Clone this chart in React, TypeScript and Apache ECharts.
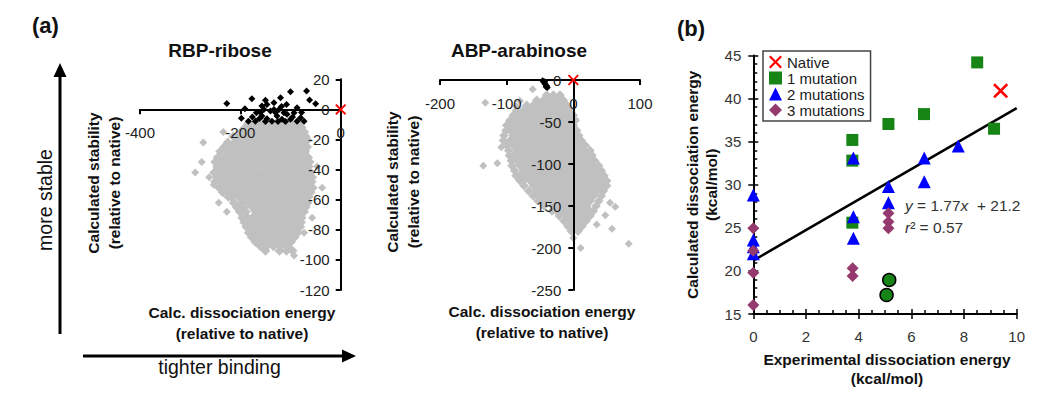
import React, { useEffect, useRef } from 'react';
import * as echarts from 'echarts';

const FONT = '"Liberation Sans", Arial, Helvetica, sans-serif';
const X_PATH = 'path://M0,1.2L1.2,0L5,3.8L8.8,0L10,1.2L6.2,5L10,8.8L8.8,10L5,6.2L1.2,10L0,8.8L3.8,5Z';

// ---------- Panel (a) RBP-ribose ----------
const rbpXTicks = { min: -400, max: 0, interval: 200 };
const rbpYTicks = { min: -120, max: 20, interval: 20 };
const rbpNative: [number, number][] = [[0, 0]];
const rbpBlack: [number, number][] = [
  [-227, 4], [-177, 7], [-191, 0.5], [-198, -5.8], [-184, -7.8], [-168, -2.2], [-157, 2.2], [-147, 3.3],
  [-133, 4.4], [-120, 7.8], [-100, 11.7], [-68, 12.2], [-62, 6.2], [-50, 3.8], [-87, 1.1], [-108, 3.3],
  [-123, 0], [-140, -1.1], [-157, -4.4], [-147, -6.2], [-127, -4.4], [-107, -3.3], [-93, -2.2], [-80, -5.5],
  [-73, -7.8], [-117, -6.6], [-100, -6.6], [-170, -7.8], [-137, -7.8], [-87, -7.8], [-113, -2.2], [-133, 0],
  [-153, 0], [-150, 6], [-176, -5], [-162, -6], [-130, -2], [-118, 2], [-96, -5], [-110, -8], [-125, -8],
  [-150, -8], [-160, -2], [-78, -2],
];
const rbpGreyRows: [number, number[]][] = [
  [-9, [-183, -169, -155, -141, -127, -113, -99, -85]],
  [-12, [-190, -176, -162, -148, -134, -120, -106, -92, -78]],
  [-15, [-199, -183, -169, -155, -141, -127, -113, -99, -85, -73]],
  [-18, [-214, -204, -190, -176, -162, -148, -134, -120, -106, -92, -78, -70]],
  [-22, [-225, -211, -197, -183, -169, -155, -141, -127, -113, -99, -85, -71]],
  [-25, [-232, -218, -204, -190, -176, -162, -148, -134, -120, -106, -92, -78, -67]],
  [-28, [-240, -225, -211, -197, -183, -169, -155, -141, -127, -113, -99, -85, -71]],
  [-32, [-245, -232, -218, -204, -190, -176, -162, -148, -134, -120, -106, -92, -78, -65]],
  [-35, [-250, -239, -225, -211, -197, -183, -169, -155, -141, -127, -113, -99, -85, -71, -62]],
  [-38, [-246, -232, -218, -204, -190, -176, -162, -148, -134, -120, -106, -92, -78, -64]],
  [-42, [-252, -239, -225, -211, -197, -183, -169, -155, -141, -127, -113, -99, -85, -71, -60]],
  [-45, [-246, -232, -218, -204, -190, -176, -162, -148, -134, -120, -106, -92, -78, -64, -57]],
  [-48, [-250, -239, -225, -211, -197, -183, -169, -155, -141, -127, -113, -99, -85, -71, -58]],
  [-52, [-242, -232, -218, -204, -190, -176, -162, -148, -134, -120, -106, -92, -78, -64, -56]],
  [-55, [-235, -225, -211, -197, -183, -169, -155, -141, -127, -113, -99, -85, -71, -60]],
  [-58, [-224, -218, -204, -190, -176, -162, -148, -134, -120, -106, -92, -78, -64]],
  [-62, [-213, -197, -183, -169, -155, -141, -127, -113, -99, -85, -71, -66]],
  [-65, [-207, -194, -176, -162, -148, -134, -120, -106, -92, -78, -70]],
  [-68, [-201, -189, -169, -155, -141, -127, -113, -99, -85, -73]],
  [-72, [-196, -186, -176, -162, -148, -134, -120, -106, -92, -78]],
  [-75, [-192, -183, -169, -155, -141, -127, -113, -99, -85, -79]],
  [-78, [-188, -176, -162, -148, -134, -120, -106, -92, -81]],
  [-82, [-183, -169, -155, -141, -127, -113, -99, -86]],
  [-85, [-177, -162, -148, -134, -120, -106, -92]],
  [-88, [-170, -155, -141, -127, -113, -99]],
  [-91, [-160, -148, -134, -120, -106]],
  [-94, [-150, -122, -108, -96]],
];
const rbpGreyOutliers: [number, number][] = [
  [-234, -15], [-274, -22], [-277, -35], [-290, -42], [-262, -45], [-253, -50], [-243, -62], [-227, -68],
  [-37, -52], [-47, -38], [-57, -72], [-73, -82], [-93, -97], [-153, -92], [-65, -20],
];

// ---------- Panel (a) ABP-arabinose ----------
const abpXTicks = { min: -200, max: 100, interval: 100 };
const abpYTicks = { min: -250, max: 0, interval: 50 };
const abpNative: [number, number][] = [[0, 0]];
const abpBlack: [number, number][] = [[-46, -1], [-44, -3], [-42, -5], [-40, -7], [-39, -9], [-43, -2], [-41, -8]];
const abpGreyRows: [number, number[]][] = [
  [-18, [-40, -30, -20]],
  [-24, [-55, -45, -35, -25, -15]],
  [-30, [-70, -60, -50, -40, -30, -20, -10]],
  [-36, [-85, -75, -65, -55, -45, -35, -25, -15, -5]],
  [-42, [-90, -80, -70, -60, -50, -40, -30, -20, -10, 0]],
  [-48, [-95, -85, -75, -65, -55, -45, -35, -25, -15, -5, 3]],
  [-54, [-100, -90, -80, -70, -60, -50, -40, -30, -20, -10, 0]],
  [-60, [-101, -95, -85, -75, -65, -55, -45, -35, -25, -15, -5, 5]],
  [-66, [-104, -90, -80, -70, -60, -50, -40, -30, -20, -10, 0, 8]],
  [-72, [-105, -95, -85, -75, -65, -55, -45, -35, -25, -15, -5, 5, 12]],
  [-78, [-100, -90, -80, -70, -60, -50, -40, -30, -20, -10, 0, 10, 18]],
  [-84, [-97, -85, -75, -65, -55, -45, -35, -25, -15, -5, 5, 15, 25]],
  [-90, [-96, -90, -80, -70, -60, -50, -40, -30, -20, -10, 0, 10, 20, 28]],
  [-96, [-93, -85, -75, -65, -55, -45, -35, -25, -15, -5, 5, 15, 25, 32]],
  [-102, [-92, -80, -70, -60, -50, -40, -30, -20, -10, 0, 10, 20, 30, 38]],
  [-108, [-88, -75, -65, -55, -45, -35, -25, -15, -5, 5, 15, 25, 35, 42]],
  [-114, [-86, -80, -70, -60, -50, -40, -30, -20, -10, 0, 10, 20, 30, 40, 46]],
  [-120, [-80, -75, -65, -55, -45, -35, -25, -15, -5, 5, 15, 25, 35, 45, 50]],
  [-126, [-74, -60, -50, -40, -30, -20, -10, 0, 10, 20, 30, 40, 50]],
  [-132, [-67, -55, -45, -35, -25, -15, -5, 5, 15, 25, 35, 45]],
  [-138, [-60, -50, -40, -30, -20, -10, 0, 10, 20, 30, 42]],
  [-144, [-53, -45, -35, -25, -15, -5, 5, 15, 25, 38]],
  [-150, [-44, -30, -20, -10, 0, 10, 20, 34]],
  [-156, [-32, -25, -15, -5, 5, 15, 25, 30]],
  [-162, [-21, -10, 0, 10, 20, 25]],
  [-168, [-14, -5, 5, 15, 19]],
  [-174, [-8, 0, 10, 13]],
  [-180, [-3, 7]],
];
const abpGreyOutliers: [number, number][] = [
  [-132, -27], [-61, -11], [-80, -25], [-86, -31], [-135, -102], [-114, -99], [-108, -80], [83, -195],
  [11, -200], [58, -177], [48, -161], [63, -151], [55, -146], [0, -188], [35, -172],
];

// ---------- Panel (b) ----------
const bXTicks = { min: 0, max: 10, interval: 2 };
const bYTicks = { min: 15, max: 45, interval: 5 };
const nativeB: [number, number][] = [[9.39, 40.9]];
const oneMutation: [number, number][] = [
  [8.5, 44.2], [9.14, 36.5], [6.48, 38.2], [5.13, 37.05], [3.76, 35.2], [3.76, 32.8], [3.76, 25.6],
];
const oneMutationCircled: [number, number][] = [[5.16, 18.95], [5.06, 17.2]];
const twoMutations: [number, number][] = [
  [0, 28.8], [0, 23.6], [0, 22.8], [0, 22.0], [3.8, 33.1], [3.8, 26.3], [3.8, 23.8], [5.13, 29.8],
  [5.13, 27.9], [6.49, 33.1], [6.49, 30.35], [7.78, 34.5],
];
const threeMutations: [number, number][] = [
  [0, 24.95], [0, 22.35], [0, 19.8], [0, 16.05], [3.77, 20.3], [3.77, 19.4], [5.13, 26.7], [5.13, 25.7],
  [5.13, 24.95],
];
const trendX = [0, 10];
const trendY = [21.2, 38.9];
const legendNames = ['Native', '1 mutation', '2 mutations', '3 mutations'];

function expandRows(rows: [number, number[]][]): [number, number][] {
  const out: [number, number][] = [];
  rows.forEach(([y, xs]) => xs.forEach((x) => out.push([x, y])));
  return out;
}

// axes of panel (a) cross at the origin; they are moved there with offset
function aAxis(gridIndex: number, ticks: { min: number; max: number; interval: number }, pos: string, offset: number, margin: number) {
  return {
    type: 'value',
    gridIndex,
    position: pos,
    offset,
    min: ticks.min,
    max: ticks.max,
    interval: ticks.interval,
    z: 2,
    axisLine: { show: true, onZero: false, lineStyle: { color: '#000', width: 2 } },
    axisTick: { show: true, inside: false, length: 5, lineStyle: { color: '#000', width: 2 } },
    axisLabel: {
      show: true, margin, color: '#222', fontSize: 15, fontFamily: FONT,
      showMinLabel: true, showMaxLabel: true,
    },
    splitLine: { show: false },
    minorTick: { show: false },
  };
}

function bAxis(ticks: { min: number; max: number; interval: number }, pos: string, split: number, margin: number, overlay: boolean) {
  return {
    type: 'value',
    gridIndex: 2,
    position: pos,
    min: ticks.min,
    max: ticks.max,
    interval: ticks.interval,
    z: 2,
    axisLine: { show: !overlay, onZero: false, lineStyle: { color: '#000', width: 2 } },
    axisTick: { show: true, inside: !overlay, length: 5, lineStyle: { color: '#000', width: 1.5 } },
    minorTick: { show: !overlay, splitNumber: split, length: 4, lineStyle: { color: '#000', width: 1.5 } },
    axisLabel: {
      show: !overlay, margin, color: '#333', fontSize: 15, fontFamily: FONT,
      showMinLabel: true, showMaxLabel: true,
    },
    splitLine: { show: false },
  };
}

function label(text: string, x: number, y: number, opts: any = {}) {
  return {
    type: 'text', x, y, rotation: opts.rotation || 0, z: 10,
    style: {
      text, align: opts.align || 'center', verticalAlign: 'middle',
      fontSize: opts.fontSize || 15.5, fontWeight: opts.fontWeight || 'bold',
      fontFamily: FONT, fill: opts.fill || '#111', lineHeight: opts.lineHeight || 21,
    },
  };
}

const option: any = {
  animation: false,
  backgroundColor: '#fff',
  textStyle: { fontFamily: FONT },
  grid: [
    { left: 140, top: 79.3, width: 200.7, height: 210.7, outerBoundsMode: 'none' },
    { left: 440, top: 80, width: 200, height: 210, outerBoundsMode: 'none' },
    { left: 753.3, top: 55.5, width: 263.4, height: 258.5, outerBoundsMode: 'none' },
  ],
  xAxis: [
    aAxis(0, rbpXTicks, 'bottom', -180.7, 16),
    aAxis(1, abpXTicks, 'bottom', -210, 16),
    bAxis(bXTicks, 'bottom', 4, 15, false),
    bAxis(bXTicks, 'bottom', 4, 15, true),
  ],
  yAxis: [
    aAxis(0, rbpYTicks, 'left', -200.7, 11),
    aAxis(1, abpYTicks, 'left', -133.3, 12),
    {
      ...bAxis(bYTicks, 'left', 5, 12, false),
      name: 'Calculated dissociation energy\n(kcal/mol)',
      nameLocation: 'middle',
      nameGap: 31,
      nameTextStyle: { fontSize: 15.5, fontWeight: 'bold', color: '#111', fontFamily: FONT, lineHeight: 19 },
    },
    bAxis(bYTicks, 'left', 5, 12, true),
  ],
  legend: {
    data: legendNames,
    orient: 'vertical',
    left: 763,
    top: 51,
    padding: [3, 6, 3, 6],
    itemGap: 0,
    itemWidth: 13,
    itemHeight: 13,
    borderColor: '#444',
    borderWidth: 1.5,
    backgroundColor: '#fff',
    selectedMode: false,
    textStyle: { fontSize: 15, color: '#222', fontFamily: FONT, lineHeight: 16 },
  },
  series: [
    {
      name: 'RBP designs', type: 'scatter', xAxisIndex: 0, yAxisIndex: 0, z: 1, silent: true,
      symbol: 'diamond', symbolSize: 10, itemStyle: { color: '#c0c0c0', opacity: 1 },
      data: expandRows(rbpGreyRows),
    },
    {
      name: 'RBP designs (edge)', type: 'scatter', xAxisIndex: 0, yAxisIndex: 0, z: 1, silent: true,
      symbol: 'diamond', symbolSize: 8, itemStyle: { color: '#c0c0c0', opacity: 1 },
      data: rbpGreyOutliers,
    },
    {
      name: 'RBP stable', type: 'scatter', xAxisIndex: 0, yAxisIndex: 0, z: 3, silent: true,
      symbol: 'diamond', symbolSize: 7, itemStyle: { color: '#000', opacity: 1 }, data: rbpBlack,
    },
    {
      name: 'RBP native', type: 'scatter', xAxisIndex: 0, yAxisIndex: 0, z: 4, silent: true,
      symbol: X_PATH, symbolSize: 11, itemStyle: { color: '#ff0000', opacity: 1 }, data: rbpNative,
    },
    {
      name: 'ABP designs', type: 'scatter', xAxisIndex: 1, yAxisIndex: 1, z: 1, silent: true,
      symbol: 'diamond', symbolSize: 9.5, itemStyle: { color: '#c0c0c0', opacity: 1 },
      data: expandRows(abpGreyRows),
    },
    {
      name: 'ABP designs (edge)', type: 'scatter', xAxisIndex: 1, yAxisIndex: 1, z: 1, silent: true,
      symbol: 'diamond', symbolSize: 8, itemStyle: { color: '#c0c0c0', opacity: 1 },
      data: abpGreyOutliers,
    },
    {
      name: 'ABP stable', type: 'scatter', xAxisIndex: 1, yAxisIndex: 1, z: 3, silent: true,
      symbol: 'diamond', symbolSize: 7, itemStyle: { color: '#000', opacity: 1 }, data: abpBlack,
    },
    {
      name: 'ABP native', type: 'scatter', xAxisIndex: 1, yAxisIndex: 1, z: 4, silent: true,
      symbol: X_PATH, symbolSize: 11, itemStyle: { color: '#ff0000', opacity: 1 }, data: abpNative,
    },
    {
      name: 'Fit', type: 'line', xAxisIndex: 2, yAxisIndex: 2, z: 2, silent: true, symbol: 'none',
      lineStyle: { color: '#000', width: 2.5 },
      data: trendX.map((x, i) => [x, trendY[i]]),
    },
    {
      name: '1 mutation', type: 'scatter', xAxisIndex: 2, yAxisIndex: 2, z: 3, silent: true,
      symbol: 'rect', symbolSize: 12, itemStyle: { color: '#168516', opacity: 1 }, data: oneMutation,
    },
    {
      name: '1 mutation circled', type: 'scatter', xAxisIndex: 2, yAxisIndex: 2, z: 3, silent: true,
      symbol: 'circle', symbolSize: 13,
      itemStyle: { color: '#168516', borderColor: '#000', borderWidth: 1.5, opacity: 1 }, data: oneMutationCircled,
    },
    {
      name: '2 mutations', type: 'scatter', xAxisIndex: 2, yAxisIndex: 2, z: 4, silent: true,
      symbol: 'triangle', symbolSize: 13, itemStyle: { color: '#0000ff', opacity: 1 }, data: twoMutations,
    },
    {
      name: '3 mutations', type: 'scatter', xAxisIndex: 2, yAxisIndex: 2, z: 5, silent: true,
      symbol: 'diamond', symbolSize: 12, itemStyle: { color: '#943a6e', opacity: 1 }, data: threeMutations,
    },
    {
      name: 'Native', type: 'scatter', xAxisIndex: 2, yAxisIndex: 2, z: 5, silent: true,
      symbol: X_PATH, symbolSize: 15, itemStyle: { color: '#ff0000', opacity: 1 }, data: nativeB,
    },
  ],
  graphic: [
    label('(a)', 32, 25, { align: 'left', fontSize: 22 }),
    label('(b)', 677, 28, { align: 'left', fontSize: 22 }),
    label('RBP-ribose', 220, 50, { fontSize: 19 }),
    label('ABP-arabinose', 519, 50, { fontSize: 19 }),
    label('Calc. dissociation energy\n(relative to native)', 242, 322.5),
    label('Calculated stability\n(relative to native)', 104, 183, { rotation: Math.PI / 2 }),
    label('Calc. dissociation energy\n(relative to native)', 542, 322),
    label('Calculated stability\n(relative to native)', 403, 182, { rotation: Math.PI / 2 }),
    label('more stable', 45, 200, { rotation: Math.PI / 2, fontSize: 19.5, fontWeight: 'normal' }),
    label('tighter binding', 219.5, 367, { fontSize: 19.5, fontWeight: 'normal' }),
    label('Experimental dissociation energy\n(kcal/mol)', 887, 368.5, { lineHeight: 19 }),
    {
      type: 'text', x: 905, y: 205, z: 10,
      style: {
        text: '{i|y} = 1.77{i|x}  + 21.2', verticalAlign: 'middle', align: 'left',
        fontSize: 15.5, fontFamily: FONT, fill: '#333',
        rich: { i: { fontStyle: 'italic', fontSize: 15.5, fontFamily: FONT, fill: '#333' } },
      },
    },
    {
      type: 'text', x: 905, y: 227, z: 10,
      style: {
        text: '{i|r}\u00B2 = 0.57', verticalAlign: 'middle', align: 'left',
        fontSize: 15.5, fontFamily: FONT, fill: '#333',
        rich: { i: { fontStyle: 'italic', fontSize: 15.5, fontFamily: FONT, fill: '#333' } },
      },
    },
    { type: 'line', z: 10, shape: { x1: 60, y1: 334, x2: 60, y2: 74 }, style: { stroke: '#000', lineWidth: 3 } },
    { type: 'polygon', z: 10, shape: { points: [[60, 63], [53.5, 77], [66.5, 77]] }, style: { fill: '#000' } },
    { type: 'line', z: 10, shape: { x1: 83, y1: 356, x2: 344, y2: 356 }, style: { stroke: '#000', lineWidth: 3 } },
    { type: 'polygon', z: 10, shape: { points: [[356, 356], [342, 349.5], [342, 362.5]] }, style: { fill: '#000' } },
  ],
};

export default function App() {
  const ref = useRef<HTMLDivElement>(null);
  useEffect(() => {
    const chart = echarts.init(ref.current as HTMLDivElement, null, { renderer: 'svg' });
    chart.setOption(option);
    return () => chart.dispose();
  }, []);
  return (
    <div
      ref={ref}
      style={{ position: 'fixed', left: 0, top: 0, width: 1050, height: 408, background: '#fff' }}
    />
  );
}
